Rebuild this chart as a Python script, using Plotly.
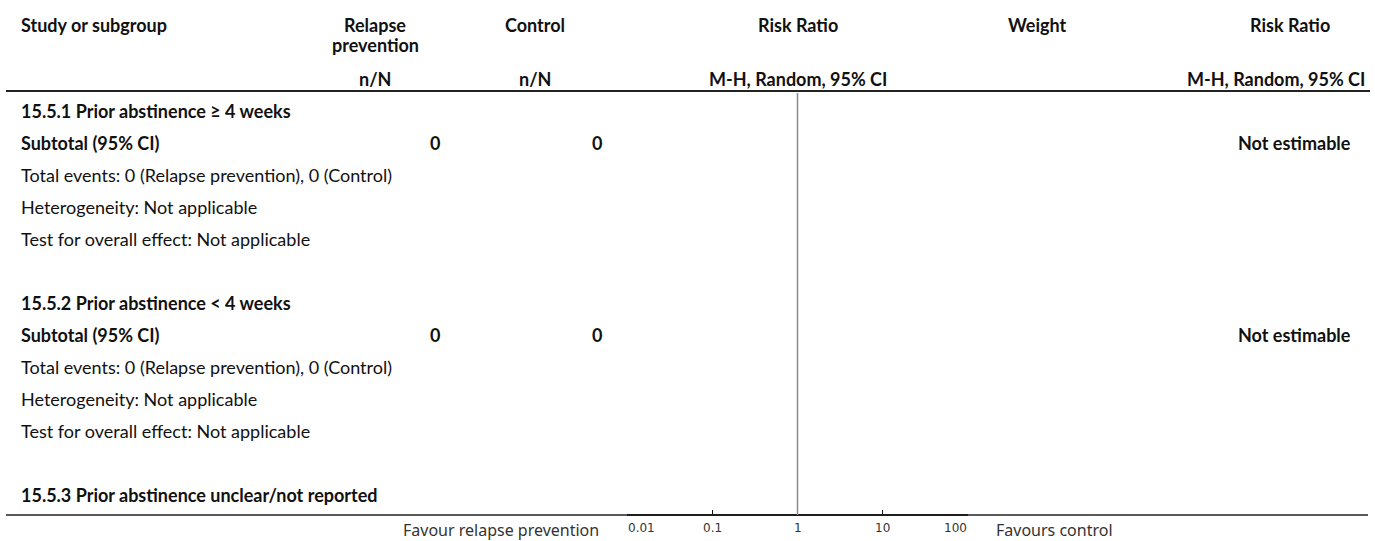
import math
import plotly.graph_objects as go

W, H = 1375, 541

# ---- data ----
columns = ["Study or subgroup", "Relapse<br>prevention", "Control", "Risk Ratio", "Weight", "Risk Ratio"]
subheaders = ["n/N", "n/N", "M-H, Random, 95% CI", "M-H, Random, 95% CI"]
group_titles = [
    "15.5.1 Prior abstinence ≥ 4 weeks",
    "15.5.2 Prior abstinence < 4 weeks",
    "15.5.3 Prior abstinence unclear/not reported",
]
subtotal_exp = [0, 0]
subtotal_ctrl = [0, 0]
events_exp = [0, 0]
events_ctrl = [0, 0]
subtotal_effect = ["Not estimable", "Not estimable"]
heterogeneity = ["Not applicable", "Not applicable"]
overall_effect = ["Not applicable", "Not applicable"]
tick_vals = [0.01, 0.1, 1, 10, 100]
tick_text = ["0.01", "0.1", "1", "10", "100"]
favour_left = "Favour relapse prevention"
favour_right = "Favours control"
null_value = 1

# ---- styling / layout constants ----
FONT = "Lato, sans-serif"
TXT = "#111111"
FS = 18
AX_L, AX_R = 627, 968
LINE_TOP = 91
LINE_BOT = 515
ROW0 = 111
PITCH = 32
TEXT_X = 20

fig = go.Figure()
fig.add_trace(go.Scatter(x=[null_value], y=[LINE_BOT], mode="markers",
                         marker=dict(opacity=0), hoverinfo="skip", showlegend=False))

ann = []
def txt(x, y, s, bold=False, anchor="left", size=FS, family=FONT, color=TXT, xref="paper"):
    ann.append(dict(x=(x / W if xref == "paper" else x), xref=xref, y=y, yref="y",
                    text=(f"<b>{s}</b>" if bold else s),
                    showarrow=False, xanchor=anchor, yanchor="middle", borderpad=0,
                    font=dict(family=family, size=size, color=color)))

# headers (multi-line headers split into separate lines for tighter spacing)
hx = [(TEXT_X, "left"), (375, "center"), (535, "center"), (798, "center"), (1037, "center"), (1290, "center")]
for (x, a), s in zip(hx, columns):
    for i, line in enumerate(s.split("<br>")):
        txt(x, 25 + 20 * i, line, bold=True, anchor=a)
sx = [(375, "center"), (535, "center"), (798, "center"), (1366, "right")]
for (x, a), s in zip(sx, subheaders):
    txt(x, 79, s, bold=True, anchor=a)

# rows
row = 0
for g in range(len(group_titles)):
    txt(TEXT_X, ROW0 + PITCH * row, group_titles[g], bold=True)
    row += 1
    if g < len(subtotal_exp):
        y = ROW0 + PITCH * row
        txt(TEXT_X, y, "Subtotal (95% CI)", bold=True)
        txt(435, y, str(subtotal_exp[g]), bold=True, anchor="center")
        txt(597, y, str(subtotal_ctrl[g]), bold=True, anchor="center")
        txt(1352, y, subtotal_effect[g], bold=True, anchor="right")
        row += 1
        txt(TEXT_X, ROW0 + PITCH * row,
            f"Total events: {events_exp[g]} (Relapse prevention), {events_ctrl[g]} (Control)")
        row += 1
        txt(TEXT_X, ROW0 + PITCH * row, f"Heterogeneity: {heterogeneity[g]}")
        row += 1
        txt(TEXT_X, ROW0 + PITCH * row, f"Test for overall effect: {overall_effect[g]}")
        row += 2

# tick labels (log axis: annotation x given in log10 units; end labels pulled inward)
for i, (v, s) in enumerate(zip(tick_vals, tick_text)):
    a = "left" if i == 0 else ("right" if i == len(tick_vals) - 1 else "center")
    txt(math.log10(v), 528, s, anchor=a, size=12, family="'DejaVu Sans', sans-serif", color="#333", xref="x")

# favour labels
txt(600, 530, favour_left, anchor="right", family="'Noto Sans', 'Open Sans', sans-serif", size=16, color="#333")
txt(995, 530, favour_right, anchor="left", family="'Noto Sans', 'Open Sans', sans-serif", size=16, color="#333")

shapes = []
shapes.append(dict(type="line", xref="paper", yref="y", x0=6 / W, x1=1370 / W, y0=LINE_TOP, y1=LINE_TOP,
                   line=dict(color="#222", width=2)))
shapes.append(dict(type="line", xref="paper", yref="y", x0=6 / W, x1=1368 / W, y0=LINE_BOT, y1=LINE_BOT,
                   line=dict(color="#222", width=1.5)))
shapes.append(dict(type="line", xref="x", yref="y", x0=null_value, x1=null_value, y0=LINE_TOP + 2, y1=LINE_BOT,
                   line=dict(color="#8a8a8a", width=1.5)))

fig.update_layout(
    width=W, height=H,
    margin=dict(l=0, r=0, t=0, b=0),
    paper_bgcolor="white", plot_bgcolor="rgba(0,0,0,0)",
    showlegend=False,
    annotations=ann, shapes=shapes,
    xaxis=dict(type="log", range=[-2, 2], domain=[AX_L / W, AX_R / W],
               anchor="free", position=(H - LINE_BOT) / H,
               showgrid=False, zeroline=False, showline=True, linecolor="#111", linewidth=2,
               ticks="inside", ticklen=4, tickcolor="#111", tickwidth=1,
               tickvals=tick_vals, showticklabels=False),
    yaxis=dict(range=[H, 0], domain=[0, 1], visible=False, showgrid=False, zeroline=False),
)

fig.write_html("out.html", config={"displayModeBar": False},
               post_script="document.body.style.margin='0px';")
